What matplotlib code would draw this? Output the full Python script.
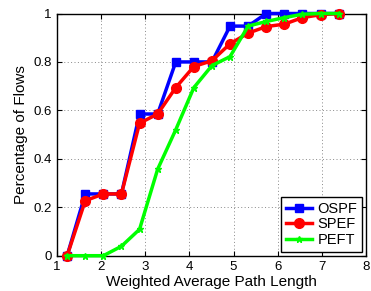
import numpy as np
import matplotlib
matplotlib.use('Agg')
import matplotlib.pyplot as plt

plt.rcParams['font.family'] = ['Liberation Sans', 'DejaVu Sans']

# Data
path_len = [1.23, 1.64, 2.05, 2.46, 2.87, 3.28, 3.69, 4.10, 4.51,
            4.92, 5.33, 5.74, 6.15, 6.56, 6.97, 7.38]
ospf = [0.0, 0.255, 0.255, 0.255, 0.585, 0.585, 0.80, 0.80, 0.80,
        0.948, 0.948, 1.0, 1.0, 1.0, 1.0, 1.0]
spef = [0.0, 0.227, 0.255, 0.255, 0.547, 0.585, 0.694, 0.781, 0.805,
        0.875, 0.919, 0.946, 0.956, 0.983, 0.995, 1.0]
peft = [0.0, 0.0, 0.0, 0.039, 0.109, 0.357, 0.52, 0.694, 0.785,
        0.822, 0.948, 0.967, 0.983, 0.997, 1.0, 1.0]

x_ticks = [1, 2, 3, 4, 5, 6, 7, 8]
y_ticks = [0, 0.2, 0.4, 0.6, 0.8, 1]
y_tick_labels = ['0', '0.2', '0.4', '0.6', '0.8', '1']

fig = plt.figure(figsize=(3.71, 2.91), dpi=100)
ax = fig.add_axes([57 / 371, 1 - 255.7 / 291, (366 - 57) / 371, (255.7 - 13.5) / 291])

ax.plot(path_len, ospf, color='#0000ff', lw=2.5, marker='s', ms=5.5, label='OSPF',
        zorder=3, clip_on=False)
ax.plot(path_len, spef, color='#ff0000', lw=2.5, marker='o', ms=7, label='SPEF',
        zorder=4, clip_on=False)
ax.plot(path_len, peft, color='#00ff00', lw=2.5, marker='*', ms=5, label='PEFT',
        zorder=5, clip_on=False)

ax.set_xlim(1, 8)
ax.set_ylim(0, 1)
ax.set_xticks(x_ticks)
ax.set_yticks(y_ticks)
ax.set_yticklabels(y_tick_labels)
ax.tick_params(direction='in', top=True, right=True, labelsize=9.5, length=3.5, pad=4)
ax.grid(True, linestyle=(0, (1, 2.5)), color='#888888', lw=0.7)
for s in ax.spines.values():
    s.set_linewidth(1.0)

ax.set_xlabel('Weighted Average Path Length', fontsize=11, labelpad=1)
ax.set_ylabel('Percentage of Flows', fontsize=11, labelpad=4)

leg = ax.legend(loc='lower right', fontsize=10.5, fancybox=False, framealpha=1,
                edgecolor='black', borderaxespad=0.25, handlelength=1.8,
                borderpad=0.35, labelspacing=0.1, handletextpad=0.35)
leg.get_frame().set_linewidth(1.0)

fig.savefig('out.png', dpi=100)
